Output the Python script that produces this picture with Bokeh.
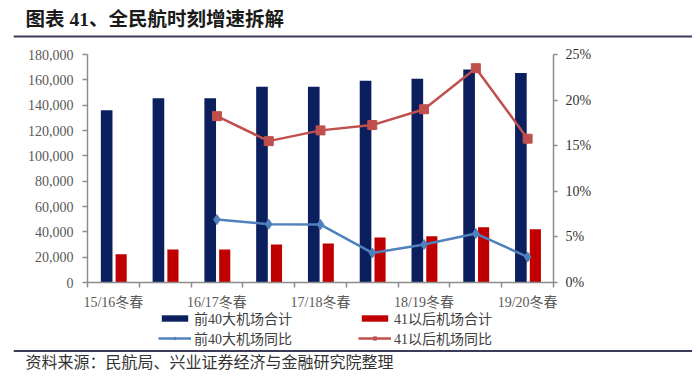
from bokeh.plotting import figure
from bokeh.layouts import column
from bokeh.models import (ColumnDataSource, Range1d, LinearAxis, FixedTicker, NumeralTickFormatter,
                          Label, BoxAnnotation, Legend, LegendItem)
from bokeh.transform import dodge
from bokeh.embed import file_html
from bokeh.resources import INLINE
import numpy as np

categories = ["15/16冬春", "16夏秋", "16/17冬春", "17夏秋", "17/18冬春", "18夏秋", "18/19冬春", "19夏秋", "19/20冬春"]
tick_labels = ["15/16冬春", "", "16/17冬春", "", "17/18冬春", "", "18/19冬春", "", "19/20冬春"]
top40_total = [136000, 145500, 145500, 154500, 154500, 159300, 160800, 168200, 165300]
after41_total = [22300, 26000, 26000, 30000, 30700, 35500, 36500, 43600, 42000]
top40_yoy = [np.nan, np.nan, 0.069, 0.064, 0.0635, 0.0324, 0.0416, 0.0537, 0.028]
after41_yoy = [np.nan, np.nan, 0.1824, 0.155, 0.1668, 0.1726, 0.190, 0.235, 0.1577]

title_text = "图表 41、全民航时刻增速拆解"
source_text = "资料来源：民航局、兴业证券经济与金融研究院整理"
series_names = ["前40大机场合计", "41以后机场合计", "前40大机场同比", "41以后机场同比"]

SERIF = "'Liberation Serif', 'Noto Sans CJK SC'"
W = 692
PAD = 13
RULE = "#3B3B5C"
NAVY, RED, BLUE, ROSE = "#0B1F5E", "#C00000", "#4F81BD", "#C0504D"

x = [i + 0.5 for i in range(len(categories))]
src = ColumnDataSource(dict(x=x, cat=categories, a=top40_total, b=after41_total,
                            ya=top40_yoy, yb=after41_yoy))


def bare(height):
    f = figure(width=W, height=height, output_backend="svg", toolbar_location=None,
               x_range=Range1d(0, W - PAD), y_range=Range1d(0, height),
               x_axis_type=None, y_axis_type=None,
               frame_width=W - PAD, frame_height=height,
               min_border_left=PAD, min_border_right=0, min_border_top=0, min_border_bottom=0,
               frame_align=False)
    f.outline_line_color = None
    f.xgrid.visible = False
    f.ygrid.visible = False
    return f


def rule(f, y):
    f.add_layout(BoxAnnotation(left=0, right=W - PAD, bottom=y - 1, top=y + 1,
                               fill_color=RULE, fill_alpha=1, line_color=None))


# ---------- header ----------
top = bare(42)
top.add_layout(Label(x=12, y=23, text=title_text, text_font=SERIF, text_font_size="19.5px",
                     text_color="#1a1a1a", text_baseline="middle", text_font_style="bold"))
rule(top, 6)

# ---------- main chart ----------
p = figure(width=W, height=268, output_backend="svg", toolbar_location=None,
           x_range=Range1d(0, len(categories)), y_range=Range1d(0, 180000),
           min_border_left=87, min_border_right=139, min_border_top=12, min_border_bottom=28,
           frame_width=466, frame_height=228, frame_align=False)
p.title.visible = False
p.outline_line_color = None
p.xgrid.visible = False
p.ygrid.visible = False
p.extra_y_ranges = {"pct": Range1d(0, 0.25)}

p.vbar(x=dodge("x", -0.13, range=p.x_range), top="a", width=0.225, source=src,
       fill_color=NAVY, line_color=None)
p.vbar(x=dodge("x", 0.15, range=p.x_range), top="b", width=0.215, source=src,
       fill_color=RED, line_color=None)
p.line("x", "ya", source=src, y_range_name="pct", line_color=BLUE, line_width=2.5)
p.scatter("x", "ya", source=src, y_range_name="pct", marker="diamond", size=10,
          fill_color=BLUE, line_color=BLUE)
p.line("x", "yb", source=src, y_range_name="pct", line_color=ROSE, line_width=2.5)
p.scatter("x", "yb", source=src, y_range_name="pct", marker="square", size=9,
          fill_color=ROSE, line_color=ROSE)

axis_color = "#8C8C8C"

xa = p.xaxis[0]
xa.ticker = FixedTicker(ticks=[v for v, t in zip(x, tick_labels) if t],
                        minor_ticks=list(range(len(categories) + 1)))
xa.major_label_overrides = {v: t for v, t in zip(x, tick_labels) if t}
xa.major_tick_line_color = None
xa.minor_tick_in = 0
xa.minor_tick_out = 5
xa.minor_tick_line_color = axis_color
xa.minor_tick_line_width = 1.5
xa.axis_line_color = axis_color
xa.axis_line_width = 1.5
xa.major_label_text_font = SERIF
xa.major_label_text_font_size = "14px"
xa.major_label_text_color = "#595959"
xa.major_label_standoff = 6

ya_ax = p.yaxis[0]
ya_ax.ticker = FixedTicker(ticks=list(range(0, 180001, 20000)))
ya_ax.formatter = NumeralTickFormatter(format="0,0")
ya_ax.minor_tick_line_color = None
ya_ax.major_tick_in = 0
ya_ax.major_tick_out = 5
ya_ax.major_tick_line_color = axis_color
ya_ax.major_tick_line_width = 1.5
ya_ax.axis_line_color = axis_color
ya_ax.axis_line_width = 1.5
ya_ax.major_label_text_font = SERIF
ya_ax.major_label_text_font_size = "14px"
ya_ax.major_label_text_color = "#595959"
ya_ax.major_label_standoff = 9

ra = LinearAxis(y_range_name="pct", ticker=FixedTicker(ticks=[0, 0.05, 0.10, 0.15, 0.20, 0.25]),
                formatter=NumeralTickFormatter(format="0%"))
ra.minor_tick_line_color = None
ra.major_tick_in = 0
ra.major_tick_out = 4
ra.major_tick_line_color = axis_color
ra.major_tick_line_width = 1.5
ra.axis_line_color = axis_color
ra.axis_line_width = 1.5
ra.major_label_text_font = SERIF
ra.major_label_text_font_size = "14px"
ra.major_label_text_color = "#333333"
ra.major_label_standoff = 8
p.add_layout(ra, "right")

# ---------- footer: legend, rule, source ----------
bot = bare(60)
# legend keys: same series, drawn on ranges that lie outside the visible frame
bot.extra_x_ranges = {"off": Range1d(-30, -20)}
bot.extra_y_ranges = {"offy": Range1d(0, 180000), "offp": Range1d(0, 0.25)}
ka = bot.vbar(x="x", top="a", width=0.225, source=src, x_range_name="off", y_range_name="offy",
              fill_color=NAVY, line_color=None)
kb = bot.vbar(x="x", top="b", width=0.215, source=src, x_range_name="off", y_range_name="offy",
              fill_color=RED, line_color=None)
kla = bot.line("x", "ya", source=src, x_range_name="off", y_range_name="offp",
               line_color=BLUE, line_width=2.5)
ksa = bot.scatter("x", "ya", source=src, x_range_name="off", y_range_name="offp",
                  marker="diamond", size=10, fill_color=BLUE, line_color=BLUE)
klb = bot.line("x", "yb", source=src, x_range_name="off", y_range_name="offp",
               line_color=ROSE, line_width=2.5)
ksb = bot.scatter("x", "yb", source=src, x_range_name="off", y_range_name="offp",
                  marker="square", size=9, fill_color=ROSE, line_color=ROSE)


def make_legend(items, loc):
    lg = Legend(items=items, location=loc, orientation="vertical",
                padding=0, margin=0, spacing=0, glyph_width=33, glyph_height=8,
                label_height=15, label_standoff=3, label_text_font=SERIF,
                label_text_font_size="14px", label_text_color="#404040",
                border_line_color=None, background_fill_alpha=0)
    bot.add_layout(lg, "center")


make_legend([LegendItem(label=series_names[0], renderers=[ka]),
             LegendItem(label=series_names[2], renderers=[kla, ksa])], (145, 24))
make_legend([LegendItem(label=series_names[1], renderers=[kb]),
             LegendItem(label=series_names[3], renderers=[klb, ksb])], (345, 24))

rule(bot, 21.5)
bot.add_layout(Label(x=12, y=10, text=source_text, text_font=SERIF, text_font_size="16px",
                     text_color="#333333", text_baseline="middle"))

layout = column(top, p, bot, spacing=0)
open("out.html", "w").write(file_html(layout, INLINE))
